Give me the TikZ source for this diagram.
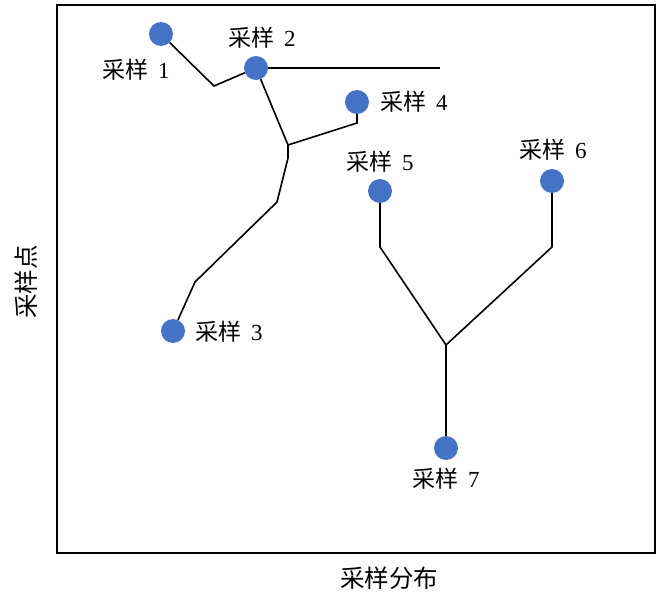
\documentclass[tikz,border=0pt]{standalone}
\usepackage{fontspec}
\setmainfont{Liberation Serif}
\newfontfamily\cjk{Noto Sans CJK SC}
\definecolor{dotblue}{HTML}{4472C4}
\begin{document}
\begin{tikzpicture}[x=1pt,y=-1pt,
  dot/.style={circle,fill=dotblue,inner sep=0pt,minimum size=24pt},
  lbl/.style={font=\fontsize{23}{25}\selectfont,inner sep=0pt},
  conn/.style={line width=1.6pt,black,line join=miter}]
\useasboundingbox (0,0) rectangle (657,597);
\draw[line width=1.8pt] (57,5) rectangle (655,553);
% axis labels
\node[font=\fontsize{24.5}{26}\selectfont] (xl) at (389,578) {\cjk 采样分布};
\node[font=\fontsize{24.5}{26}\selectfont,rotate=90] (yl) at (26,282) {\cjk 采样点};
% bends and junctions
\coordinate (b1) at (214,86);
\coordinate (e2) at (440,68);
\coordinate (j1) at (288,145);
\coordinate (b4) at (357,123);
\coordinate (c1) at (288,158);
\coordinate (c2) at (277,202);
\coordinate (c3) at (195,282);
\coordinate (b5) at (380,247);
\coordinate (b6) at (552,247);
\coordinate (j2) at (446,345);
% dots
\node[dot] (s1) at (161,34) {};
\node[dot] (s2) at (256,68) {};
\node[dot] (s4) at (357,102) {};
\node[dot] (s5) at (380,191) {};
\node[dot] (s6) at (552,181) {};
\node[dot] (s3) at (173,331) {};
\node[dot] (s7) at (446,448) {};
% connectors
\draw[conn] (s1) -- (b1) -- (s2);
\draw[conn] (s2) -- (e2);
\draw[conn] (s2) -- (j1) -- (b4) -- (s4);
\draw[conn] (j1) -- (c1) -- (c2) -- (c3) -- (s3);
\draw[conn] (s5) -- (b5) -- (j2);
\draw[conn] (s6) -- (b6) -- (j2);
\draw[conn] (j2) -- (s7);
% labels
\node[lbl] (l1) at (136,70) {{\cjk 采样}\, 1};
\node[lbl] (l2) at (262,38) {{\cjk 采样}\, 2};
\node[lbl] (l4) at (414,102) {{\cjk 采样}\, 4};
\node[lbl] (l5) at (380,162) {{\cjk 采样}\, 5};
\node[lbl] (l6) at (553,150) {{\cjk 采样}\, 6};
\node[lbl] (l3) at (229,332) {{\cjk 采样}\, 3};
\node[lbl] (l7) at (446,479) {{\cjk 采样}\, 7};
\end{tikzpicture}
\end{document}
